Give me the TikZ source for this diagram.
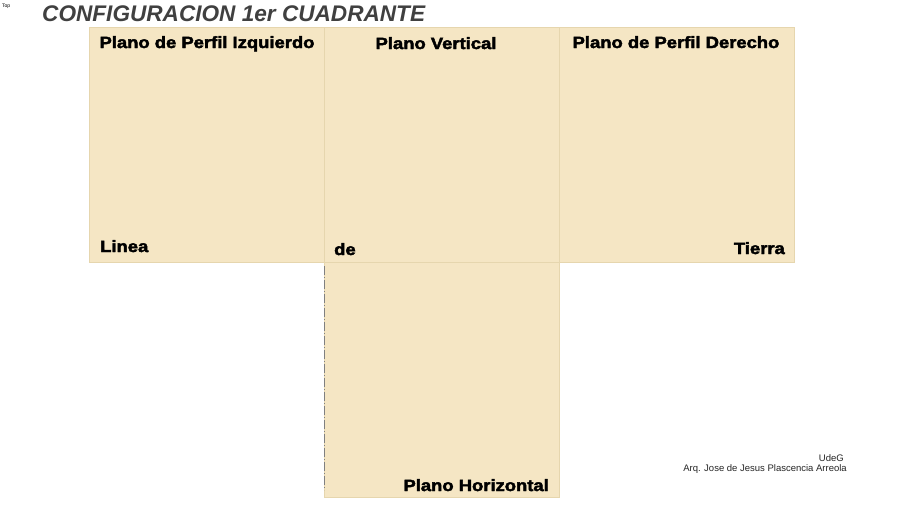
\documentclass[tikz,border=0pt]{standalone}
\usepackage{fontspec}
\setmainfont{Liberation Sans}
\newfontfamily\heavy[FakeBold=2.6,FakeStretch=1.13]{Liberation Sans Bold}
\definecolor{panel}{HTML}{F5E6C4}
\definecolor{panelline}{HTML}{E6D6AE}
\definecolor{titlegray}{HTML}{404040}
\begin{document}
\begin{tikzpicture}[x=1pt,y=-1pt,
  panelbox/.style={fill=panel,draw=panelline,line width=0.8pt},
  lbl/.style={font=\heavy\fontsize{16.3}{19}\selectfont,inner sep=0pt,text=black},
  credit/.style={font=\fontsize{9.5}{11}\selectfont,inner sep=0pt,text=black!85}]
\useasboundingbox (0,0) rectangle (910,512);
\fill[white] (0,0) rectangle (910,512);
\node[anchor=base west,inner sep=0pt,font=\fontsize{5}{6}\selectfont] (top) at (2,7) {Top};
\node[anchor=base west,inner sep=0pt,font=\bfseries\itshape\fontsize{22.6}{26}\selectfont,text=titlegray] (title) at (42,21) {CONFIGURACION 1er CUADRANTE};
\draw[panelbox] (89,27) rectangle (324,262) coordinate (lp);
\draw[panelbox] (324,27) rectangle (559,262) coordinate (cp);
\draw[panelbox] (559,27) rectangle (794,262) coordinate (rp);
\draw[panelbox] (324,262) rectangle (559,497) coordinate (bp);
\coordinate (d1) at (324,266);
\coordinate (d2) at (324,490);
\draw[gray,dashed,dash pattern=on 9pt off 2pt on 1pt off 2pt,line width=0.6pt] (d1) -- (d2);
\node[lbl,anchor=base] (pizq) at (207,48) {Plano de Perfil Izquierdo};
\node[lbl,anchor=base] (pver) at (436,49) {Plano Vertical};
\node[lbl,anchor=base] (pder) at (676,48) {Plano de Perfil Derecho};
\node[lbl,anchor=base west] (linea) at (100,252) {Linea};
\node[lbl,anchor=base west] (de) at (334,255) {de};
\node[lbl,anchor=base east] (tierra) at (785,254) {Tierra};
\node[lbl,anchor=base east] (phor) at (549,491) {Plano Horizontal};
\node[credit,anchor=base east] (udeg) at (844,461) {UdeG};
\node[credit,anchor=base east] (arq) at (847,471) {Arq. Jose de Jesus Plascencia Arreola};
\end{tikzpicture}
\end{document}
